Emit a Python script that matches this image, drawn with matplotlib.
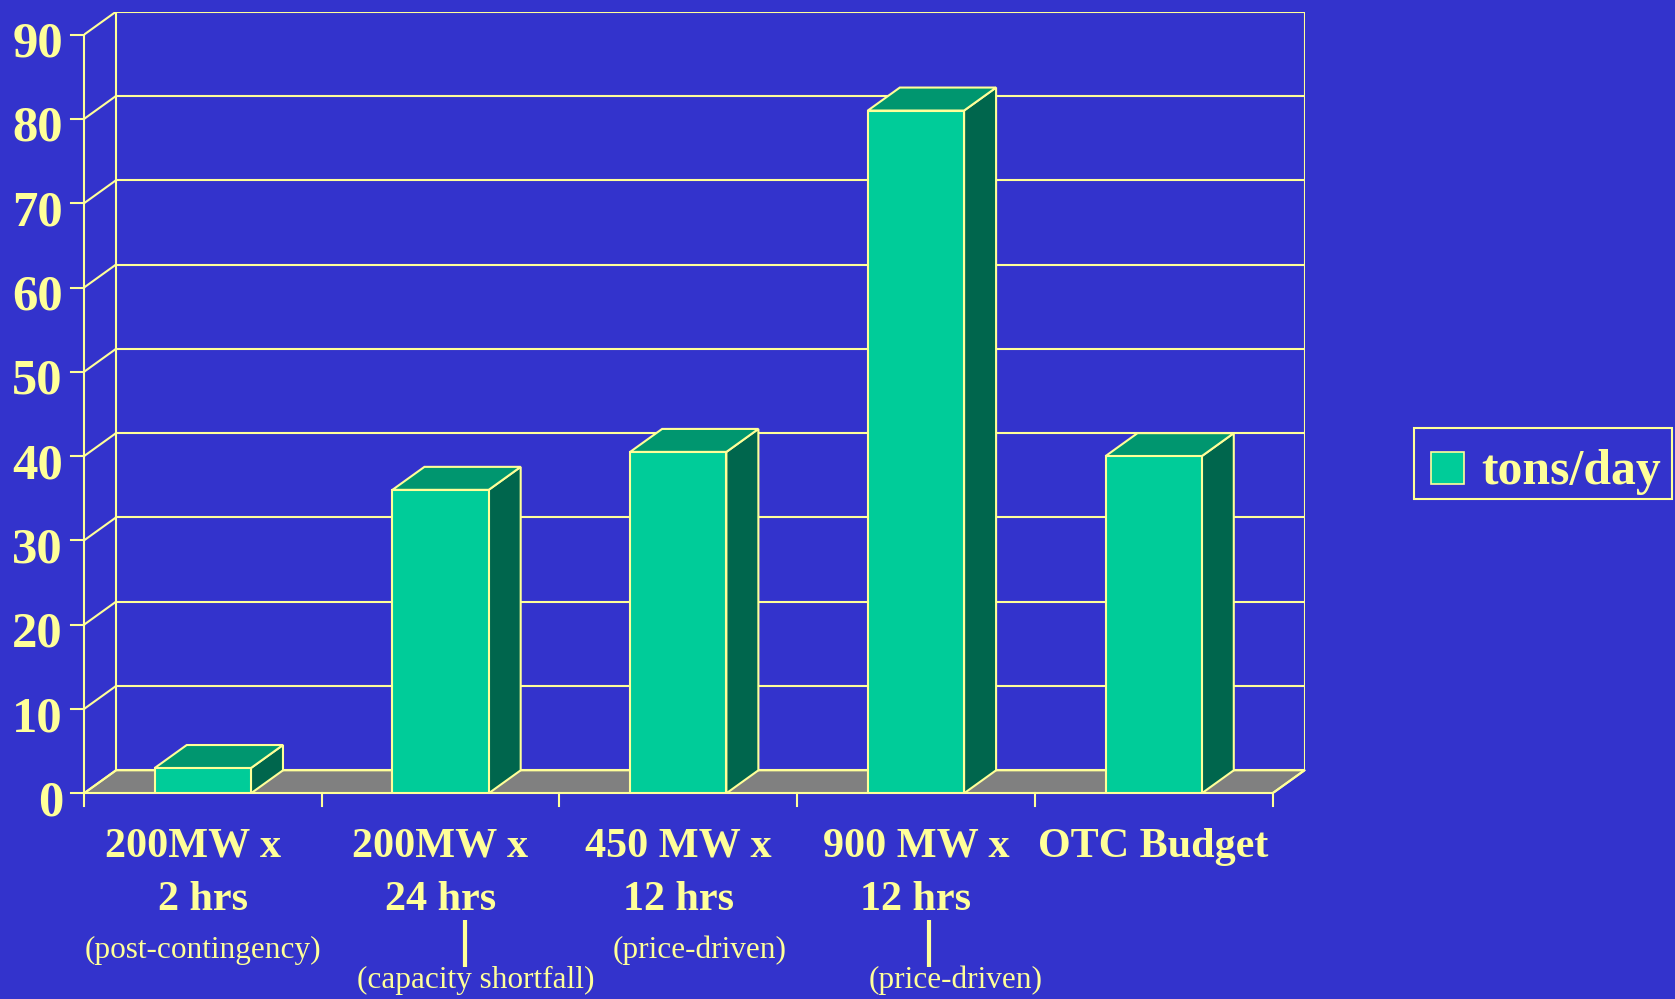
"""
  3-D style column chart of emissions (tons/day) for several outage cases
"""

import numpy as np
import matplotlib.pyplot as plt
from matplotlib.patches import Polygon, Rectangle
from matplotlib.transforms import offset_copy

plt.rcParams['font.family'] = ['Liberation Serif', 'DejaVu Serif']

# data
cases_top = ['200MW x', '200MW x', '450 MW x', '900 MW x', 'OTC Budget']
cases_bottom = ['2 hrs', '24 hrs', '12 hrs', '12 hrs', '']
notes = ['(post-contingency)', '(capacity shortfall)', '(price-driven)',
         '(price-driven)', '']
tons_per_day = [3, 36, 40.5, 81, 40]
series_name = 'tons/day'
yticks = np.arange(0, 100, 10)

# colours
BG = '#3333CC'
YEL = '#FFFF99'
FRONT = '#00CC99'
TOP = '#00966F'
SIDE = '#00664D'
FLOOR = '#808080'

# layout, in pixels of the 1675x999 figure
W, H = 1675, 999
X0, Y0 = 84, 793.3          # front origin (from top-left)
CAT_PX, VAL_PX = 237.7, 8.429   # pixels per category / per ton
DEP_X, DEP_Y = 32, 23       # 3-D depth offset
n = len(tons_per_day)
ymax = yticks[-1]

dx = DEP_X / CAT_PX
dy = DEP_Y / VAL_PX

fig = plt.figure(figsize=(W / 100, H / 100), dpi=100, facecolor=BG)
ax = fig.add_axes([X0 / W, (H - Y0) / H,
                   (n * CAT_PX + DEP_X) / W, (ymax * VAL_PX + DEP_Y) / H])
ax.set_xlim(0, n + dx)
ax.set_ylim(0, ymax + dy)
ax.axis('off')

lw = 1.5

# floor
ax.add_patch(Polygon([(0, 0), (n, 0), (n + dx, dy), (dx, dy)], closed=True,
                     facecolor=FLOOR, edgecolor=YEL, lw=lw, zorder=1))

# back wall gridlines and left wall diagonals
for v in yticks:
    ax.plot([dx, n + dx], [v + dy, v + dy], color=YEL, lw=lw, zorder=1)
    ax.plot([0, dx], [v, v + dy], color=YEL, lw=lw, zorder=1)
ax.plot([dx, dx], [dy, ymax + dy], color=YEL, lw=lw, zorder=1)
ax.plot([n + dx, n + dx], [dy, ymax + dy], color=YEL, lw=lw, zorder=1)

# front axes with ticks
tick_x = 13 / CAT_PX
tick_y = 13 / VAL_PX
ax.plot([0, 0], [0, ymax], color=YEL, lw=lw, zorder=3, clip_on=False)
ax.plot([0, n], [0, 0], color=YEL, lw=lw, zorder=3, clip_on=False)
ax.plot([n, n + dx], [0, dy], color=YEL, lw=lw, zorder=3, clip_on=False)
for v in yticks:
    ax.plot([-tick_x, 0], [v, v], color=YEL, lw=lw, clip_on=False)
for i in range(n + 1):
    ax.plot([i, i], [0, -tick_y], color=YEL, lw=lw, clip_on=False)

# y tick labels
ylab_tr = offset_copy(ax.transData, fig=fig, x=-21, y=-22, units='dots')
for v in yticks:
    ax.text(0, v, str(v), transform=ylab_tr, ha='right', va='baseline',
            color=YEL, fontsize=36.5, fontweight='bold')

# columns
bw = 0.405
for i, v in enumerate(tons_per_day):
    x0 = i + 0.5 - bw / 2
    x1 = i + 0.5 + bw / 2
    ax.add_patch(Polygon([(x1, 0), (x1 + dx, dy), (x1 + dx, v + dy), (x1, v)],
                         closed=True, facecolor=SIDE, edgecolor=YEL, lw=lw,
                         zorder=4, joinstyle='miter'))
    ax.add_patch(Polygon([(x0, v), (x1, v), (x1 + dx, v + dy), (x0 + dx, v + dy)],
                         closed=True, facecolor=TOP, edgecolor=YEL, lw=lw,
                         zorder=4, joinstyle='miter'))
    ax.add_patch(Rectangle((x0, 0), bw, v, facecolor=FRONT, edgecolor=YEL,
                           lw=lw, zorder=5, joinstyle='miter'))

# category labels (first one sits a little left of centre)
line1_tr = offset_copy(ax.transData, fig=fig, y=-63.4, units='dots')
line2_tr = offset_copy(ax.transData, fig=fig, y=-116.7, units='dots')
top_shift = [-10 / CAT_PX, 0, 0, 0, 0]
for i in range(n):
    ax.text(i + 0.5 + top_shift[i], 0, cases_top[i], transform=line1_tr,
            ha='center', va='baseline', color=YEL, fontsize=30.3,
            fontweight='bold')
    ax.text(i + 0.5, 0, cases_bottom[i], transform=line2_tr, ha='center',
            va='baseline', color=YEL, fontsize=30.3, fontweight='bold')

# notes under the labels: (x shift from centre, lower row?)
note_pos = [(0.0, False), (0.147, True), (0.09, False), (0.166, True), (0, False)]
upper_tr = offset_copy(ax.transData, fig=fig, y=-165, units='dots')
lower_tr = offset_copy(ax.transData, fig=fig, y=-195, units='dots')
for i, (shift, lower) in enumerate(note_pos):
    if not notes[i]:
        continue
    ax.text(i + 0.5 + shift, 0, notes[i], transform=lower_tr if lower else upper_tr,
            ha='center', va='baseline', color=YEL, fontsize=22.5)

# leader lines for the notes pushed down a row
for xc in [1.5 + 24.4 / CAT_PX, 3.5 + 13.1 / CAT_PX]:
    ax.plot([xc, xc], [-126.7 / VAL_PX, -174 / VAL_PX], color=YEL, lw=3,
            clip_on=False, solid_capstyle='butt')

# legend box
fig.patches.append(Rectangle((1414 / W, 1 - 499.3 / H), 258 / W, 71 / H,
                             transform=fig.transFigure, facecolor=BG,
                             edgecolor=YEL, lw=1.5))
fig.patches.append(Rectangle((1431 / W, 1 - 484 / H), 33 / W, 32.5 / H,
                             transform=fig.transFigure, facecolor=FRONT,
                             edgecolor=YEL, lw=1.2))
fig.text(1481 / W, 1 - 484 / H, series_name, ha='left', va='baseline',
         color=YEL, fontsize=35.8, fontweight='bold')

fig.savefig('out.png', dpi=100, facecolor=BG)
